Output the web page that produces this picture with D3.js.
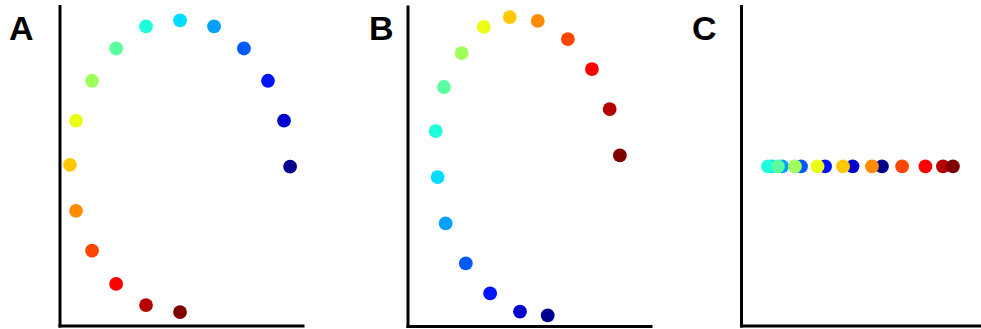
<!DOCTYPE html>
<html>
<head>
<meta charset="utf-8">
<script src="https://cdn.jsdelivr.net/npm/d3@7"></script>
<style>
  body { margin: 0; background: #fff; }
  svg { display: block; }
</style>
</head>
<body>
<div id="chart"></div>
<script>
'use strict';

// panel labels
var panels = ['A', 'B', 'C'];

// point values, index 0..15 (colour follows the index)
var aX = [94.9, 92.4, 85.8, 75.9, 63.6, 49.6, 35.6, 23.3, 13.4, 6.8, 4.3, 6.8, 13.4, 23.3, 35.6, 49.6];
var aY = [49.7, 64.1, 76.6, 86.7, 93.6, 95.5, 93.6, 86.7, 76.6, 64.1, 50.3, 35.9, 23.4, 13.0, 6.4, 4.2];

var bX = [57.7, 46.3, 34.0, 24.0, 15.7, 12.4, 11.6, 15.0, 22.3, 31.4, 42.1, 53.6, 66.0, 75.9, 83.2, 87.4];
var bY = [3.3, 4.5, 10.2, 19.6, 32.1, 46.6, 61.0, 74.8, 85.4, 93.6, 96.7, 95.5, 89.8, 80.4, 67.9, 53.4];

var cX = [58.0, 45.9, 34.6, 24.7, 16.9, 12.8, 11.1, 15.2, 22.2, 31.5, 42.0, 53.9, 66.3, 75.9, 83.1, 87.2];
var cY = [49.8, 49.8, 49.8, 49.8, 49.8, 49.8, 49.8, 49.8, 49.8, 49.8, 49.8, 49.8, 49.8, 49.8, 49.8, 49.8];

// jet-like colours, one per index
var colors = ['#00008c', '#0000cd', '#0014ff', '#005aff', '#00a0ff', '#00dcff', '#1effdc', '#5affa0',
              '#a0ff5a', '#ebff14', '#ffc800', '#ff8c00', '#ff4600', '#ff0000', '#b40000', '#800000'];

var width = 981, height = 329;
var plotW = 243, plotH = 319.5;

// where each panel's axes meet
var origins = [[59.5, 325.5], [407.5, 326], [741, 325.5]];
var labelX = [9, 369, 692];

var xs = [aX, bX, cX];
var ys = [aY, bY, cY];

var svg = d3.select('#chart')
    .append('svg')
    .attr('width', width)
    .attr('height', height);

var x = d3.scaleLinear().domain([0, 100]).range([0, plotW]);
var y = d3.scaleLinear().domain([0, 100]).range([0, -plotH]);

panels.forEach(function(name, p) {
    var g = svg.append('g')
        .attr('transform', 'translate(' + origins[p][0] + ',' + origins[p][1] + ')');

    // axes: bare spines, no ticks
    var yAxis = g.append('g')
        .attr('transform', 'translate(0,' + (-plotH) + ')')
        .call(d3.axisLeft(d3.scaleLinear().domain([100, 0]).range([0, plotH]))
            .tickValues([]).tickSizeOuter(0));
    var xAxis = g.append('g')
        .call(d3.axisBottom(x).tickValues([]).tickSizeOuter(0));

    [yAxis, xAxis].forEach(function(a) {
        a.select('.domain')
            .style('stroke', '#000')
            .style('stroke-width', 3)
            .style('stroke-linecap', 'square');
    });

    var pts = d3.range(xs[p].length).map(function(i) {
        return { i: i, x: xs[p][i], y: ys[p][i] };
    });

    g.selectAll('circle')
        .data(pts)
      .enter().append('circle')
        .attr('cx', function(d) { return x(d.x); })
        .attr('cy', function(d) { return y(d.y); })
        .attr('r', 6.9)
        .style('fill', function(d) { return colors[d.i]; });

    svg.append('text')
        .attr('x', labelX[p])
        .attr('y', 40)
        .style('font', 'bold 34px "Liberation Sans", Arial, sans-serif')
        .style('fill', '#000')
        .text(name);
});
</script>
</body>
</html>
